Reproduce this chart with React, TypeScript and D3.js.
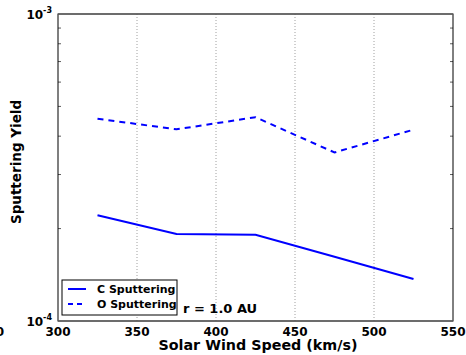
import { useEffect, useRef } from "react"
import * as d3 from "d3"

const speeds = [325, 375, 425, 475, 525]
const cSputtering = [2.21e-4, 1.92e-4, 1.91e-4, 1.62e-4, 1.37e-4]
const oSputtering = [4.56e-4, 4.21e-4, 4.61e-4, 3.54e-4, 4.2e-4]
const xTicks = [300, 350, 400, 450, 500, 550]
const gridTicks = [350, 400, 450, 500]
const seriesNames = ["C Sputtering", "O Sputtering"]

const W = 466
const H = 355
const FONT = "'DejaVu Sans', sans-serif"

export default function App() {
  const svgRef = useRef<SVGSVGElement>(null)

  useEffect(() => {
    if (!svgRef.current) return
    const svg = d3.select(svgRef.current)
    svg.selectAll("*").remove()

    const margin = { top: 14, right: 13, bottom: 34, left: 58 }
    const width = W - margin.left - margin.right
    const height = H - margin.top - margin.bottom

    const x = d3.scaleLinear().domain([300, 550]).range([0, width])
    const y = d3.scaleLog().domain([1e-4, 1e-3]).range([height, 0])

    const g = svg.append("g").attr("transform", `translate(${margin.left},${margin.top})`)

    // dotted vertical grid
    g.selectAll("line.grid")
      .data(gridTicks)
      .enter()
      .append("line")
      .attr("class", "grid")
      .attr("x1", d => x(d))
      .attr("x2", d => x(d))
      .attr("y1", 0)
      .attr("y2", height)
      .attr("stroke", "#888")
      .attr("stroke-width", 0.8)
      .attr("stroke-dasharray", "1,2")

    // minor ticks on log axis (inside, left and right)
    const minor = d3.range(2, 10).map(k => k * 1e-4)
    minor.forEach(v => {
      g.append("line").attr("x1", 0).attr("x2", 3).attr("y1", y(v)).attr("y2", y(v)).attr("stroke", "#333").attr("stroke-width", 0.8)
      g.append("line").attr("x1", width - 3).attr("x2", width).attr("y1", y(v)).attr("y2", y(v)).attr("stroke", "#333").attr("stroke-width", 0.8)
    })

    // lines
    const line = d3
      .line<number>()
      .x((_d, i) => x(speeds[i]))
      .y(d => y(d))

    g.append("path")
      .datum(cSputtering)
      .attr("d", line)
      .attr("fill", "none")
      .attr("stroke", "#0000ff")
      .attr("stroke-width", 2)

    g.append("path")
      .datum(oSputtering)
      .attr("d", line)
      .attr("fill", "none")
      .attr("stroke", "#0000ff")
      .attr("stroke-width", 2)
      .attr("stroke-dasharray", "6,5")

    // frame
    g.append("rect")
      .attr("x", 0)
      .attr("y", 0)
      .attr("width", width)
      .attr("height", height)
      .attr("fill", "none")
      .attr("stroke", "#000")
      .attr("stroke-width", 1)
    g.append("line").attr("x1", 0).attr("x2", width).attr("y1", 0).attr("y2", 0).attr("stroke", "#666").attr("stroke-width", 1.5)
    g.append("line").attr("x1", 0).attr("x2", width).attr("y1", height).attr("y2", height).attr("stroke", "#666").attr("stroke-width", 1.5)

    // x tick labels
    g.selectAll("text.xt")
      .data(xTicks)
      .enter()
      .append("text")
      .attr("x", d => x(d))
      .attr("y", height + 15)
      .attr("text-anchor", "middle")
      .style("font-family", FONT)
      .style("font-size", "12px")
      .style("font-weight", "bold")
      .text(d => d)

    // y tick labels (10^-3, 10^-4)
    const decades: [number, string][] = [[1e-3, "-3"], [1e-4, "-4"]]
    decades.forEach(([v, exp]) => {
      const t = g.append("text")
        .attr("x", -6)
        .attr("y", y(v) + 5)
        .attr("text-anchor", "end")
        .style("font-family", FONT)
        .style("font-size", "12px")
        .style("font-weight", "bold")
      t.append("tspan").text("10")
      t.append("tspan").attr("dy", -6).style("font-size", "8px").text(exp)
    })

    // clipped label fragment at far left
    svg.append("text")
      .attr("x", 4)
      .attr("y", margin.top + height + 15)
      .attr("text-anchor", "end")
      .style("font-family", FONT)
      .style("font-size", "12px")
      .style("font-weight", "bold")
      .text("0")

    // axis titles
    svg.append("text")
      .attr("x", 258)
      .attr("y", H - 5)
      .attr("text-anchor", "middle")
      .style("font-family", FONT)
      .style("font-size", "14.3px")
      .style("font-weight", "bold")
      .text("Solar Wind Speed (km/s)")

    svg.append("text")
      .attr("transform", `translate(21,162) rotate(-90)`)
      .attr("text-anchor", "middle")
      .style("font-family", FONT)
      .style("font-size", "13.5px")
      .style("font-weight", "bold")
      .text("Sputtering Yield")

    // legend
    const lg = g.append("g").attr("transform", `translate(4,${height - 41})`)
    lg.append("rect")
      .attr("width", 115)
      .attr("height", 35)
      .attr("fill", "#fff")
      .attr("stroke", "#000")
      .attr("stroke-width", 1)
    seriesNames.forEach((name, i) => {
      const ly = 9 + i * 15
      lg.append("line")
        .attr("x1", 6)
        .attr("x2", 24)
        .attr("y1", ly)
        .attr("y2", ly)
        .attr("stroke", "#0000ff")
        .attr("stroke-width", 2)
        .attr("stroke-dasharray", i === 1 ? "5,4" : null)
      lg.append("text")
        .attr("x", 35)
        .attr("y", ly + 4)
        .style("font-family", FONT)
        .style("font-size", "11px")
        .style("font-weight", "bold")
        .text(name)
    })

    g.append("text")
      .attr("x", 125)
      .attr("y", height - 8)
      .style("font-family", FONT)
      .style("font-size", "13px")
      .style("font-weight", "bold")
      .text("r = 1.0 AU")
  }, [])

  return (
    <div style={{ position: "fixed", left: 0, top: 0 }}>
      <svg ref={svgRef} width={W} height={H} style={{ display: "block", background: "#fff" }} />
    </div>
  )
}
